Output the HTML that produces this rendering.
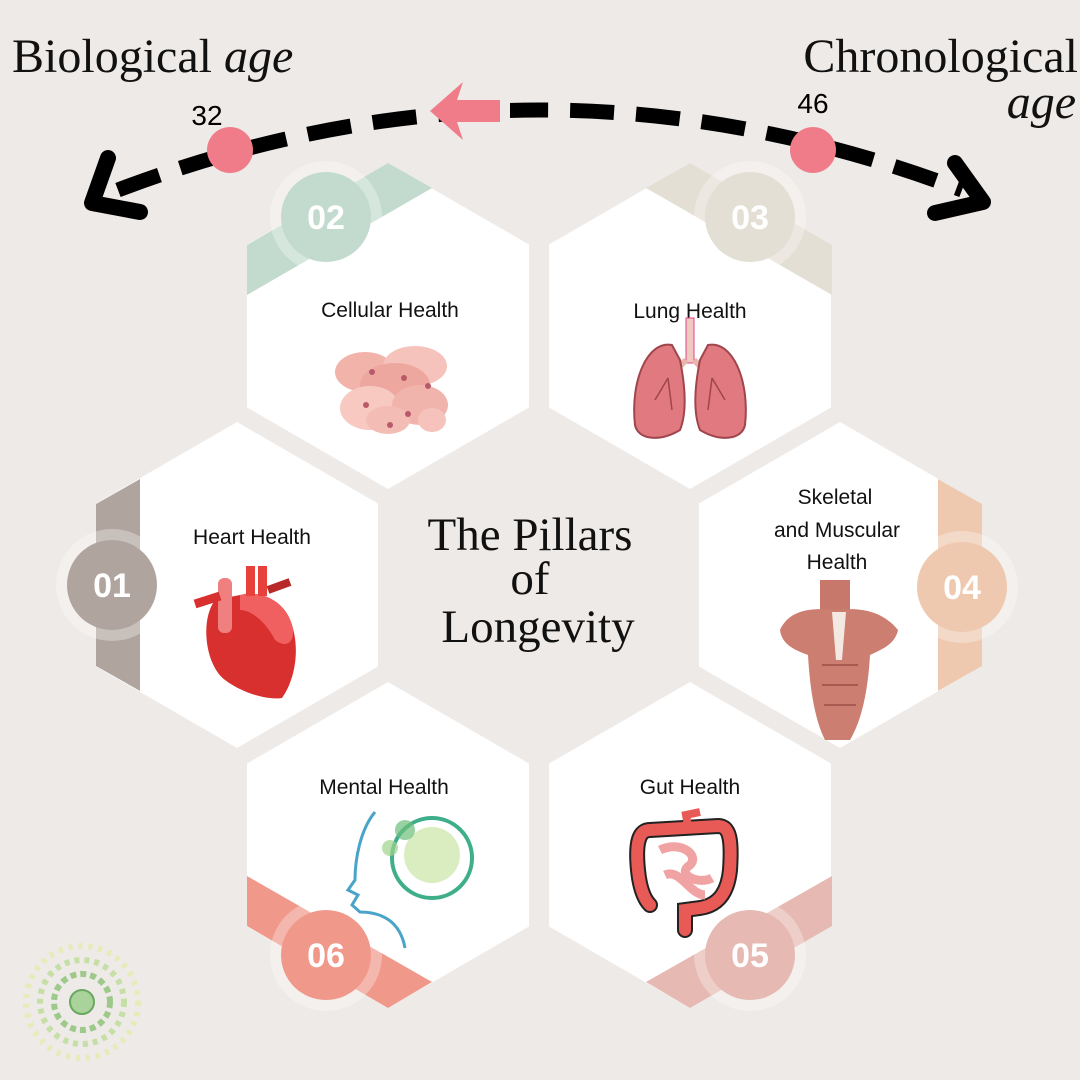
<!DOCTYPE html>
<html><head><meta charset="utf-8"><style>
html,body{margin:0;padding:0;background:#eeeae7;}
svg{display:block}
.lbl{font-family:"Liberation Sans",sans-serif;font-size:21px;fill:#111;text-anchor:middle}
.num{font-family:"Liberation Sans",sans-serif;font-size:34px;font-weight:bold;fill:#fff;text-anchor:middle}
.ser{font-family:"Liberation Serif",serif;fill:#111}
</style></head><body>
<svg width="1080" height="1080" viewBox="0 0 1080 1080" xmlns="http://www.w3.org/2000/svg">
<rect width="1080" height="1080" fill="#eeeae7"/>
<defs>
<polygon id="hx" points="0,-163 141,-81.5 141,81.5 0,163 -141,81.5 -141,-81.5" fill="#fff"/>
</defs>
<use href="#hx" x="388" y="326"/>
<use href="#hx" x="690" y="326"/>
<use href="#hx" x="237" y="585"/>
<use href="#hx" x="840" y="585"/>
<use href="#hx" x="388" y="845"/>
<use href="#hx" x="690" y="845"/>
<polygon points="247,245 388,163 432,188 247,295" fill="#c3dbcf"/>
<polygon points="832,245 690,163 646,188 832,295" fill="#e4dfd4"/>
<polygon points="96,504 140,479 140,691 96,666" fill="#b0a59e"/>
<polygon points="982,504 938,479 938,691 982,666" fill="#eec9b0"/>
<polygon points="247,926 388,1008 432,982 247,876" fill="#f0998a"/>
<polygon points="832,926 690,1008 646,982 832,876" fill="#e6b9b2"/>
<g>
<circle cx="326" cy="217" r="56" fill="#fff" opacity="0.3"/><circle cx="326" cy="217" r="45" fill="#c3dbcf"/><text class="num" x="326" y="229">02</text>
<circle cx="750" cy="217" r="56" fill="#fff" opacity="0.3"/><circle cx="750" cy="217" r="45" fill="#e4dfd4"/><text class="num" x="750" y="229">03</text>
<circle cx="112" cy="585" r="56" fill="#fff" opacity="0.3"/><circle cx="112" cy="585" r="45" fill="#b0a59e"/><text class="num" x="112" y="597">01</text>
<circle cx="962" cy="587" r="56" fill="#fff" opacity="0.3"/><circle cx="962" cy="587" r="45" fill="#eec9b0"/><text class="num" x="962" y="599">04</text>
<circle cx="326" cy="955" r="56" fill="#fff" opacity="0.3"/><circle cx="326" cy="955" r="45" fill="#f0998a"/><text class="num" x="326" y="967">06</text>
<circle cx="750" cy="955" r="56" fill="#fff" opacity="0.3"/><circle cx="750" cy="955" r="45" fill="#e6b9b2"/><text class="num" x="750" y="967">05</text>
</g>
<text class="lbl" x="390" y="317">Cellular Health</text>
<text class="lbl" x="690" y="318">Lung Health</text>
<text class="lbl" x="252" y="544">Heart Health</text>
<text class="lbl" x="835" y="504">Skeletal</text>
<text class="lbl" x="837" y="537">and Muscular</text>
<text class="lbl" x="837" y="569">Health</text>
<text class="lbl" x="384" y="794">Mental Health</text>
<text class="lbl" x="690" y="794">Gut Health</text>
<text class="ser" x="530" y="550" font-size="47" text-anchor="middle">The Pillars</text>
<text class="ser" x="530" y="594" font-size="47" text-anchor="middle">of</text>
<text class="ser" x="538" y="642" font-size="47" text-anchor="middle">Longevity</text>
<text class="ser" x="12" y="72" font-size="48">Biological <tspan font-style="italic">age</tspan></text>
<text class="ser" x="1078" y="72" font-size="48" text-anchor="end">Chronological</text>
<text class="ser" x="1076" y="118" font-size="48" text-anchor="end" font-style="italic">age</text>
<path d="M118,190 Q540,30 962,190" fill="none" stroke="#000" stroke-width="15" stroke-dasharray="44,22"/>
<polyline points="108,158 92,203 140,212" fill="none" stroke="#000" stroke-width="16" stroke-linecap="round" stroke-linejoin="round"/>
<polyline points="955,163 983,202 935,213" fill="none" stroke="#000" stroke-width="16" stroke-linecap="round" stroke-linejoin="round"/>
<rect x="470" y="100" width="40" height="23" fill="#eeeae7"/>
<polygon points="430,111 463,82 457,100 500,100 500,122 457,122 463,140" fill="#f07c8a"/>
<circle cx="230" cy="150" r="23" fill="#f07c8a"/>
<circle cx="813" cy="150" r="23" fill="#f07c8a"/>
<text x="207" y="125" font-family="Liberation Sans,sans-serif" font-size="28" text-anchor="middle">32</text>
<text x="813" y="113" font-family="Liberation Sans,sans-serif" font-size="28" text-anchor="middle">46</text>
<g>
<ellipse cx="365" cy="372" rx="30" ry="20" fill="#f2b3ab"/>
<ellipse cx="415" cy="366" rx="32" ry="20" fill="#f5c3bb"/>
<ellipse cx="395" cy="385" rx="35" ry="22" fill="#eea79f"/>
<ellipse cx="370" cy="408" rx="30" ry="22" fill="#f7c9c1"/>
<ellipse cx="420" cy="405" rx="28" ry="20" fill="#f1b4ac"/>
<ellipse cx="432" cy="420" rx="14" ry="12" fill="#f5c3bb"/>
<ellipse cx="388" cy="420" rx="22" ry="14" fill="#f3bcb4"/>
<circle cx="372" cy="372" r="3" fill="#b85a6a"/><circle cx="404" cy="378" r="3" fill="#b85a6a"/><circle cx="366" cy="405" r="3" fill="#b85a6a"/><circle cx="408" cy="414" r="3" fill="#b85a6a"/><circle cx="428" cy="386" r="3" fill="#b85a6a"/><circle cx="390" cy="425" r="3" fill="#b85a6a"/>
</g>
<g>
<rect x="686" y="318" width="8" height="45" fill="#f0c8c0" stroke="#d48" stroke-width="1"/>
<path d="M686,360 L668,378 M694,360 L712,378" stroke="#e9b5ad" stroke-width="6"/>
<path d="M672,345 C648,340 630,380 635,425 C638,440 660,442 680,430 C688,410 684,380 680,360 Z" fill="#e07a80" stroke="#a0454c" stroke-width="2"/>
<path d="M708,345 C732,340 750,380 745,425 C742,440 720,442 700,430 C692,410 696,380 700,360 Z" fill="#e07a80" stroke="#a0454c" stroke-width="2"/>
<path d="M668,378 L655,400 M668,378 L672,410 M712,378 L725,400 M712,378 L708,410" stroke="#a0454c" stroke-width="1.5" fill="none"/>
</g>
<g>
<path d="M215,600 C200,620 205,665 225,680 C245,695 270,700 282,698 C295,680 300,650 292,625 C285,600 260,590 240,595 Z" fill="#d8302e"/>
<path d="M240,595 C260,590 285,600 292,625 C296,640 288,650 275,640 C265,620 250,610 240,610 Z" fill="#f06060"/>
<rect x="218" y="578" width="14" height="55" rx="6" fill="#f08080"/>
<rect x="246" y="566" width="9" height="30" fill="#e8403a"/><rect x="258" y="566" width="9" height="30" fill="#e8403a"/>
<path d="M195,604 L220,596" stroke="#d8302e" stroke-width="9"/>
<path d="M268,590 L290,582" stroke="#b82a28" stroke-width="8"/>
</g>
<g>
<rect x="820" y="580" width="30" height="35" fill="#c8786a"/>
<path d="M780,630 C790,608 815,608 835,610 C855,608 880,608 898,630 C895,645 880,650 870,655 C868,690 862,720 850,740 L825,740 C815,720 810,690 808,655 C795,650 782,645 780,630 Z" fill="#cc7e70"/>
<path d="M832,612 L846,612 L842,660 L836,660 Z" fill="#f3e8e2"/>
<path d="M822,665 L858,665 M822,685 L858,685 M824,705 L856,705" stroke="#a85a50" stroke-width="2"/>
</g>
<g fill="none">
<path d="M375,812 C360,830 355,860 355,880 L348,890 L358,895 L352,905 L360,912 C380,912 400,920 405,948" stroke="#4aa3c8" stroke-width="3"/>
<circle cx="432" cy="858" r="40" stroke="#3fae8a" stroke-width="4"/>
<circle cx="432" cy="855" r="28" fill="#cfe8b0" opacity="0.8"/>
<circle cx="405" cy="830" r="10" fill="#6cbf7a" opacity="0.7"/>
<circle cx="390" cy="848" r="8" fill="#9fd38a" opacity="0.7"/>
</g>
<g>
<path d="M650,830 C640,830 635,840 638,870 C640,890 645,900 650,905 M650,830 L718,826 C730,826 732,840 730,870 C728,890 720,905 700,908 L685,910 L685,930" fill="none" stroke="#222" stroke-width="16" stroke-linecap="round"/>
<path d="M650,830 C640,830 635,840 638,870 C640,890 645,900 650,905 M650,830 L718,826 C730,826 732,840 730,870 C728,890 720,905 700,908 L685,910 L685,930" fill="none" stroke="#e85a55" stroke-width="12" stroke-linecap="round"/>
<path d="M660,850 C680,840 700,855 690,865 C675,875 700,885 712,878 M665,875 C680,868 690,895 705,895" fill="none" stroke="#f1a3a3" stroke-width="9"/>
<path d="M688,826 L686,815 L700,812" fill="none" stroke="#e85a55" stroke-width="8"/>
</g>
<g>
<circle cx="82" cy="1002" r="56" fill="none" stroke="#e4ecb8" stroke-width="6" stroke-dasharray="4,6"/>
<circle cx="82" cy="1002" r="42" fill="none" stroke="#c6dfa6" stroke-width="6" stroke-dasharray="5,5"/>
<circle cx="82" cy="1002" r="28" fill="none" stroke="#9dc98a" stroke-width="6" stroke-dasharray="6,4"/>
<circle cx="82" cy="1002" r="12" fill="#a9d39a" stroke="#6aa860" stroke-width="2"/>
</g>
</svg>
</body></html>
